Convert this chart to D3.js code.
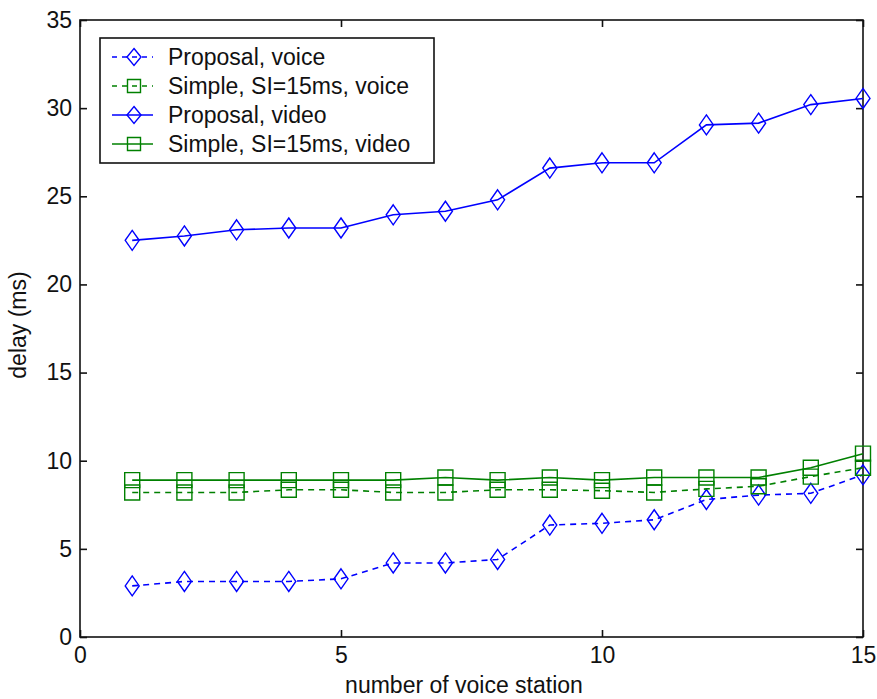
<!DOCTYPE html>
<html>
<head>
<meta charset="utf-8">
<script src="https://cdn.jsdelivr.net/npm/d3@7"></script>
<style>
  html, body { margin: 0; padding: 0; background: #fff; }
  svg text { font-family: "Liberation Sans", Arial, sans-serif; fill: #111; }
</style>
</head>
<body>
<svg id="chart" width="877" height="699"></svg>
<script>
// Number of voice stations on the x axis
const stations = [1, 2, 3, 4, 5, 6, 7, 8, 9, 10, 11, 12, 13, 14, 15];

// Average delay in ms for each scheme and traffic class
const proposalVoice = [2.9, 3.15, 3.15, 3.15, 3.3, 4.2, 4.2, 4.4, 6.35, 6.45, 6.65, 7.8, 8.05, 8.15, 9.2];
const simpleVoice   = [8.2, 8.2, 8.2, 8.35, 8.35, 8.2, 8.2, 8.35, 8.35, 8.3, 8.2, 8.4, 8.55, 9.1, 9.6];
const proposalVideo = [22.5, 22.75, 23.1, 23.2, 23.2, 23.95, 24.15, 24.8, 26.6, 26.9, 26.9, 29.05, 29.15, 30.2, 30.55];
const simpleVideo   = [8.9, 8.9, 8.9, 8.9, 8.9, 8.9, 9.05, 8.9, 9.05, 8.9, 9.05, 9.05, 9.05, 9.6, 10.4];

const xTicks = [0, 5, 10, 15];
const yTicks = [0, 5, 10, 15, 20, 25, 30, 35];

const seriesNames = ["Proposal, voice", "Simple, SI=15ms, voice", "Proposal, video", "Simple, SI=15ms, video"];
const seriesValues = [proposalVoice, simpleVoice, proposalVideo, simpleVideo];
const seriesColors = ["#0000ff", "#008000", "#0000ff", "#008000"];
const seriesDashed = [true, true, false, false];
const seriesMarkers = ["diamond", "square", "diamond", "square"];

const svg = d3.select("#chart");
const plotLeft = 80, plotRight = 863, plotTop = 20, plotBottom = 637;

const x = d3.scaleLinear().domain([0, 15]).range([plotLeft, plotRight]);
const y = d3.scaleLinear().domain([0, 35]).range([plotBottom, plotTop]);

const tickLen = 7;
const axisColor = "#111";
const fontSize = 23;

// Plot frame
svg.append("rect")
  .attr("x", plotLeft).attr("y", plotTop)
  .attr("width", plotRight - plotLeft).attr("height", plotBottom - plotTop)
  .attr("fill", "none").attr("stroke", axisColor).attr("stroke-width", 1.6);

// Axes with inward ticks on all four sides
const xAxis = d3.axisBottom(x).tickValues(xTicks).tickSizeInner(-tickLen).tickSizeOuter(0).tickPadding(10);
const yAxis = d3.axisLeft(y).tickValues(yTicks).tickSizeInner(-tickLen).tickSizeOuter(0).tickPadding(8);
const xAxisTop = d3.axisTop(x).tickValues(xTicks).tickSizeInner(-tickLen).tickSizeOuter(0).tickFormat("");
const yAxisRight = d3.axisRight(y).tickValues(yTicks).tickSizeInner(-tickLen).tickSizeOuter(0).tickFormat("");

function styleAxis(g) {
  g.select(".domain").remove();
  g.selectAll("line").attr("stroke", axisColor).attr("stroke-width", 1.6);
  g.selectAll("text")
    .attr("font-family", "Liberation Sans, Arial, sans-serif")
    .attr("font-size", fontSize)
    .attr("fill", "#111");
}

svg.append("g").attr("transform", `translate(0,${plotBottom})`).call(xAxis).call(styleAxis);
svg.append("g").attr("transform", `translate(${plotLeft},0)`).call(yAxis).call(styleAxis);
svg.append("g").attr("transform", `translate(0,${plotTop})`).call(xAxisTop).call(styleAxis);
svg.append("g").attr("transform", `translate(${plotRight},0)`).call(yAxisRight).call(styleAxis);

// Axis titles
svg.append("text")
  .attr("x", 464).attr("y", 693)
  .attr("text-anchor", "middle")
  .attr("font-size", fontSize)
  .text("number of voice station");

svg.append("text")
  .attr("transform", `translate(26,325) rotate(-90)`)
  .attr("text-anchor", "middle")
  .attr("font-size", fontSize)
  .text("delay (ms)");

// Marker shapes, centered on (0,0)
function markerPath(type, w, h) {
  if (type === "diamond") {
    return `M0,${-h / 2}L${w / 2},0L0,${h / 2}L${-w / 2},0Z`;
  }
  return `M${-w / 2},${-h / 2}H${w / 2}V${h / 2}H${-w / 2}Z`;
}
const markerSize = { diamond: [14, 20], square: [15, 15] };

const line = d3.line().x((d, i) => x(stations[i])).y(d => y(d));

seriesValues.forEach((vals, s) => {
  const g = svg.append("g");
  g.append("path")
    .datum(vals)
    .attr("d", line)
    .attr("fill", "none")
    .attr("stroke", seriesColors[s])
    .attr("stroke-width", 1.6)
    .attr("stroke-dasharray", seriesDashed[s] ? "6,5" : null);
  const [mw, mh] = markerSize[seriesMarkers[s]];
  g.selectAll("path.m")
    .data(vals)
    .join("path")
    .attr("class", "m")
    .attr("transform", (d, i) => `translate(${x(stations[i])},${y(d)})`)
    .attr("d", markerPath(seriesMarkers[s], mw, mh))
    .attr("fill", "none")
    .attr("stroke", seriesColors[s])
    .attr("stroke-width", 1.4);
});

// Legend
const legend = svg.append("g");
legend.append("rect")
  .attr("x", 100).attr("y", 38).attr("width", 334).attr("height", 125)
  .attr("fill", "#fff").attr("stroke", axisColor).attr("stroke-width", 1.6);

seriesNames.forEach((name, s) => {
  const ly = 57 + s * 29;
  legend.append("line")
    .attr("x1", 112).attr("x2", 153).attr("y1", ly).attr("y2", ly)
    .attr("stroke", seriesColors[s]).attr("stroke-width", 1.6)
    .attr("stroke-dasharray", seriesDashed[s] ? "5,5" : null);
  const [mw, mh] = seriesMarkers[s] === "diamond" ? [14, 17] : [13, 13];
  legend.append("path")
    .attr("transform", `translate(134,${ly})`)
    .attr("d", markerPath(seriesMarkers[s], mw, mh))
    .attr("fill", "none").attr("stroke", seriesColors[s]).attr("stroke-width", 1.4);
  legend.append("text")
    .attr("x", 168).attr("y", ly)
    .attr("dy", "0.36em")
    .attr("font-size", fontSize)
    .text(name);
});
</script>
</body>
</html>
